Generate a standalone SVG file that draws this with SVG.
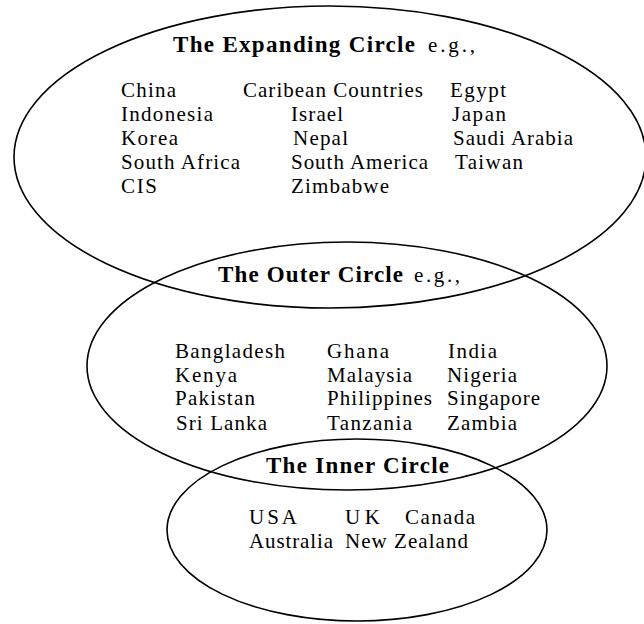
<svg xmlns="http://www.w3.org/2000/svg" width="644" height="624" viewBox="0 0 644 624">
<style>
.ring{fill:none;stroke:#000;stroke-width:1.6}
text{font-family:"Liberation Serif","Times New Roman",serif;font-size:21px;fill:#000}
.t{font-weight:bold;font-size:23px}
</style>
<rect width="644" height="624" fill="#fff"/>
<g id="expanding">
<ellipse class="ring" cx="330" cy="157" rx="316" ry="151"/>
<text class="t" x="173" y="52" textLength="242" lengthAdjust="spacing">The Expanding Circle</text>
<text x="428" y="52" textLength="47" lengthAdjust="spacing">e.g.,</text>
<text x="121" y="97" textLength="55" lengthAdjust="spacing">China</text>
<text x="243" y="97" textLength="180" lengthAdjust="spacing">Caribean Countries</text>
<text x="450" y="97" textLength="56" lengthAdjust="spacing">Egypt</text>
<text x="121" y="121" textLength="92" lengthAdjust="spacing">Indonesia</text>
<text x="291" y="121" textLength="52" lengthAdjust="spacing">Israel</text>
<text x="452" y="121" textLength="54" lengthAdjust="spacing">Japan</text>
<text x="121" y="145" textLength="57" lengthAdjust="spacing">Korea</text>
<text x="293" y="145" textLength="55" lengthAdjust="spacing">Nepal</text>
<text x="453" y="145" textLength="120" lengthAdjust="spacing">Saudi Arabia</text>
<text x="121" y="169" textLength="119" lengthAdjust="spacing">South Africa</text>
<text x="291" y="169" textLength="137" lengthAdjust="spacing">South America</text>
<text x="455" y="169" textLength="68" lengthAdjust="spacing">Taiwan</text>
<text x="121" y="193" textLength="36" lengthAdjust="spacing">CIS</text>
<text x="291" y="193" textLength="98" lengthAdjust="spacing">Zimbabwe</text>
</g>
<g id="outer">
<ellipse class="ring" cx="347" cy="366" rx="260" ry="124"/>
<text class="t" x="218" y="282" textLength="185" lengthAdjust="spacing">The Outer Circle</text>
<text x="414" y="282" textLength="46" lengthAdjust="spacing">e.g.,</text>
<text x="175" y="358" textLength="110" lengthAdjust="spacing">Bangladesh</text>
<text x="327" y="358" textLength="62" lengthAdjust="spacing">Ghana</text>
<text x="448" y="358" textLength="49" lengthAdjust="spacing">India</text>
<text x="175" y="382" textLength="62" lengthAdjust="spacing">Kenya</text>
<text x="327" y="382" textLength="85" lengthAdjust="spacing">Malaysia</text>
<text x="447" y="382" textLength="70" lengthAdjust="spacing">Nigeria</text>
<text x="175" y="405" textLength="80" lengthAdjust="spacing">Pakistan</text>
<text x="327" y="405" textLength="105" lengthAdjust="spacing">Philippines</text>
<text x="447" y="405" textLength="93" lengthAdjust="spacing">Singapore</text>
<text x="176" y="430" textLength="91" lengthAdjust="spacing">Sri Lanka</text>
<text x="327" y="430" textLength="85" lengthAdjust="spacing">Tanzania</text>
<text x="447" y="430" textLength="70" lengthAdjust="spacing">Zambia</text>
</g>
<g id="inner">
<ellipse class="ring" cx="357" cy="530" rx="190" ry="91"/>
<text class="t" x="266" y="473" textLength="183" lengthAdjust="spacing">The Inner Circle</text>
<text x="249" y="524" textLength="48" lengthAdjust="spacing">USA</text>
<text x="345" y="524" textLength="35" lengthAdjust="spacing">UK</text>
<text x="405" y="524" textLength="70" lengthAdjust="spacing">Canada</text>
<text x="249" y="548" textLength="84" lengthAdjust="spacing">Australia</text>
<text x="345" y="548" textLength="123" lengthAdjust="spacing">New Zealand</text>
</g>
<g id="connectors"/>
</svg>
